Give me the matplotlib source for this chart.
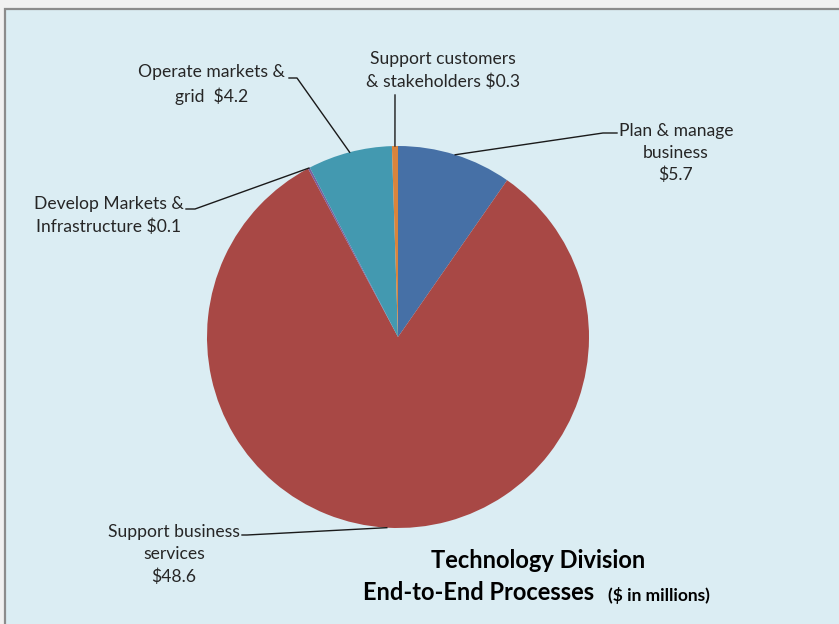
import numpy as np
import matplotlib.pyplot as plt
from matplotlib.patches import Rectangle

plt.rcParams['font.family'] = ['Lato', 'DejaVu Sans']

# Spend by end-to-end process ($ in millions), clockwise from 12 o'clock
processes = ["Plan & manage\nbusiness\n",
             "Support business\nservices\n",
             "Develop Markets &\nInfrastructure ",
             "Operate markets &\ngrid  ",
             "Support customers\n& stakeholders "]
values = [5.7, 48.6, 0.1, 4.2, 0.3]
colors = ["#4670A6", "#A84845", "#7A5E9C", "#4399B0", "#DA843C"]

W, H = 839, 624
fig = plt.figure(figsize=(W / 100, H / 100), dpi=100, facecolor="#F1F1F1")
ax = fig.add_axes([0, 0, 1, 1])

# chart panel
ax.add_patch(Rectangle((5, 9), W, H, facecolor="#DBEDF3",
                       edgecolor="#8C8C8C", linewidth=1.6, zorder=0))

cx, cy, r = 398, 337, 191
# y axis is inverted, so counterclock=True renders clockwise on screen;
# start angle -90 puts the first wedge at 12 o'clock
wedges, _ = ax.pie(values, colors=colors, startangle=-90, counterclock=True,
                   center=(cx, cy), radius=r, frame=True,
                   wedgeprops=dict(linewidth=0))
ax.set_xlim(0, W)
ax.set_ylim(H, 0)
ax.axis("off")

# label text positions and leader-line elbows
label_xy = [(676, 153), (174, 554.5), (109, 215.5), (212, 84.5), (443, 70.5)]
elbows = [[(603, 133), (617, 133)],
          [(247, 535), (242, 535)],
          [(195, 209), (186, 209)],
          [(297, 78), (289, 78)],
          [(395, 95)]]

txt_color = "#262626"
for w, name, v, (tx, ty), elb in zip(wedges, processes, values,
                                     label_xy, elbows):
    ang = np.deg2rad((w.theta1 + w.theta2) / 2)
    px, py = cx + r * np.cos(ang), cy + r * np.sin(ang)
    xs = [px] + [e[0] for e in elb]
    ys = [py] + [e[1] for e in elb]
    ax.plot(xs, ys, color="#1a1a1a", lw=1.0, zorder=5)
    ax.text(tx, ty, f"{name}${v}", ha="center", va="center", fontsize=12.6,
            color=txt_color, linespacing=1.45, zorder=6)

ax.text(538, 561, "Technology Division", ha="center", va="center",
        fontsize=17, fontweight="bold", color="black")
ax.text(479, 593, "End-to-End Processes", ha="center", va="center",
        fontsize=17, fontweight="bold", color="black")
ax.text(608, 595, "($ in millions)", ha="left", va="center",
        fontsize=12.5, fontweight="bold", color="black")

fig.savefig("out.png", dpi=100, facecolor=fig.get_facecolor())
